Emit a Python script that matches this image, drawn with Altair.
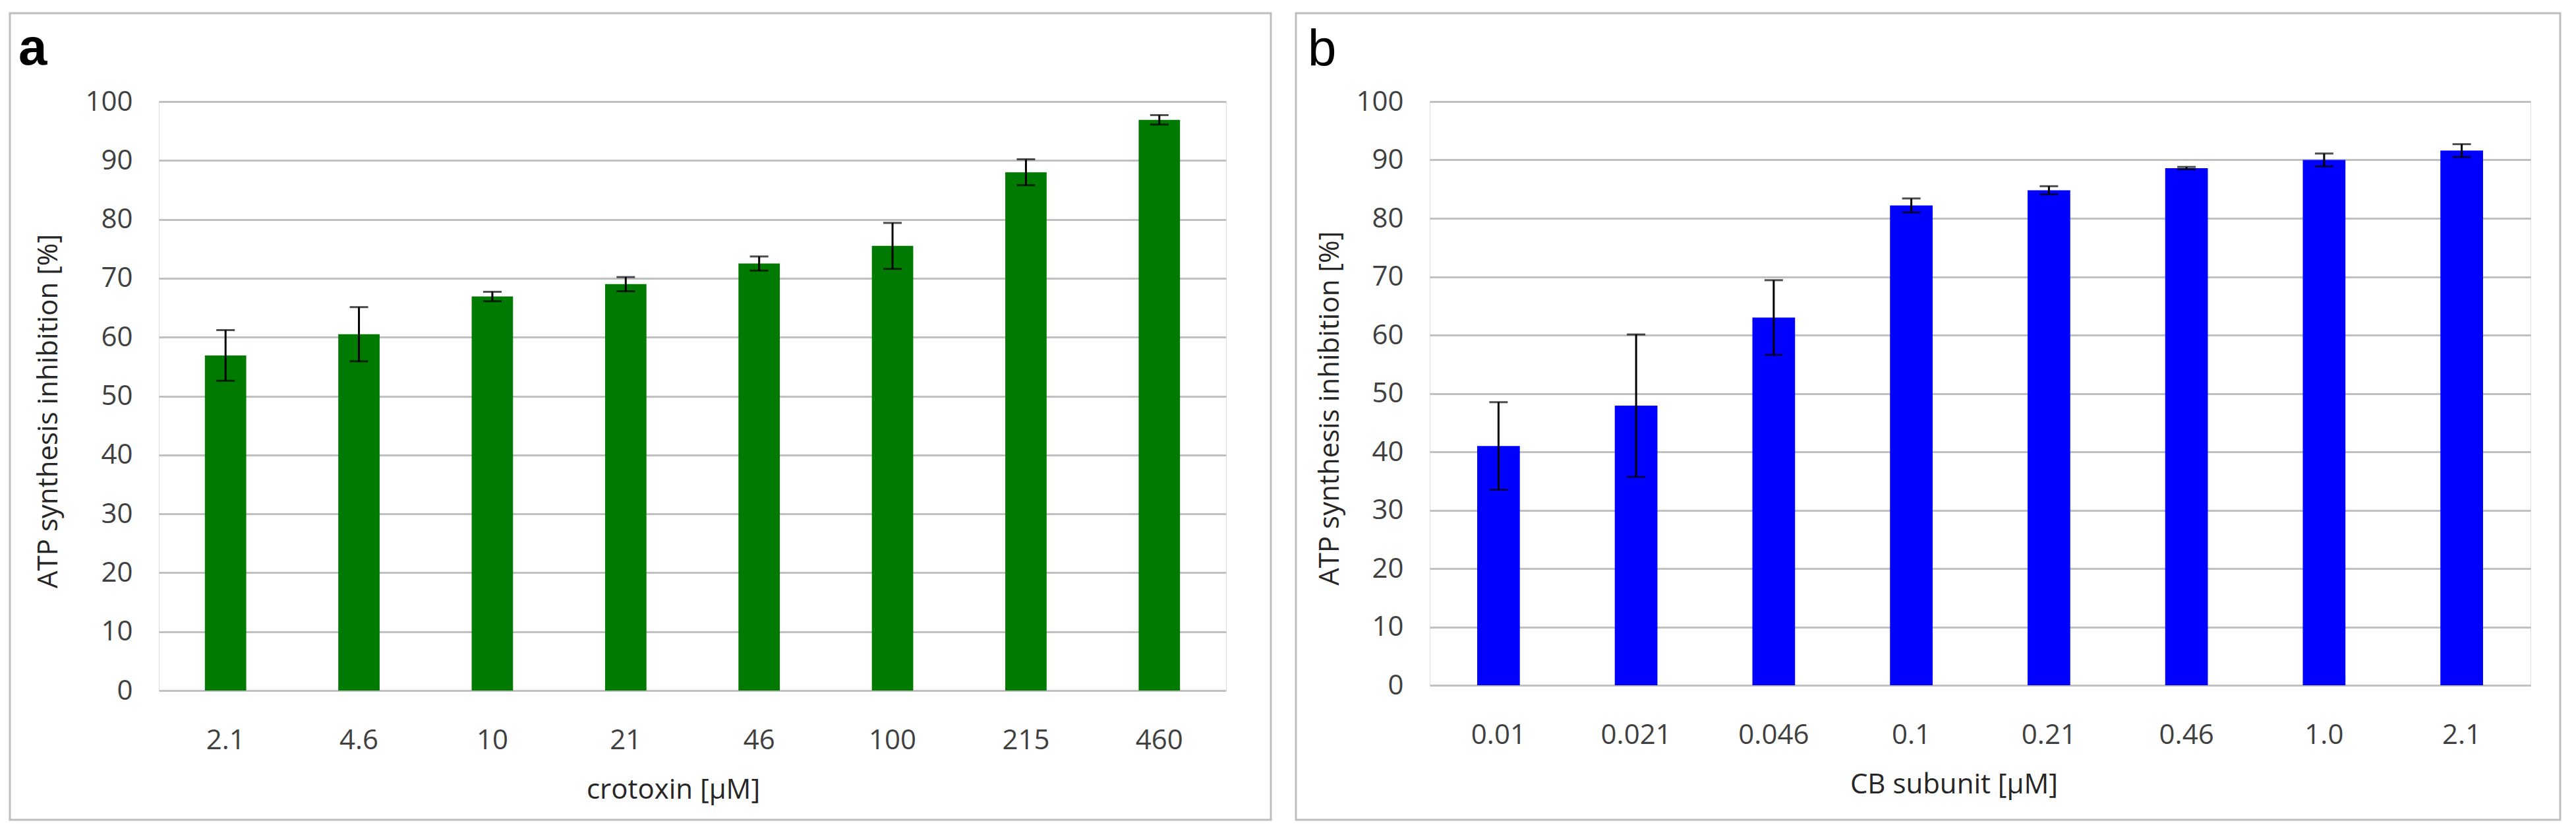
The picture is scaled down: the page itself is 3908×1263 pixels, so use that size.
import altair as alt
import pandas as pd

# ---- data ----
a_labels = ["2.1", "4.6", "10", "21", "46", "100", "215", "460"]
a_values = [56.9, 60.5, 66.9, 69.0, 72.5, 75.5, 88.0, 96.9]
a_errors = [4.3, 4.6, 0.8, 1.2, 1.2, 3.9, 2.2, 0.8]

b_labels = ["0.01", "0.021", "0.046", "0.1", "0.21", "0.46", "1.0", "2.1"]
b_values = [41.0, 47.9, 63.0, 82.2, 84.8, 88.6, 90.0, 91.6]
b_errors = [7.5, 12.2, 6.4, 1.2, 0.7, 0.2, 1.1, 1.1]

y_ticks = [0, 10, 20, 30, 40, 50, 60, 70, 80, 90, 100]

FONT = "Open Sans"
GRID = "#C0C0C0"
LABEL_COLOR = "#404040"
TITLE_COLOR = "#262626"


def panel(labels, values, errors, color, letter, letter_bold, xtitle,
          width, height, border, letter_pos, ytitle_x, xtitle_x):
    df = pd.DataFrame({"cat": labels, "val": values, "err": errors})
    df["lo"] = df["val"] - df["err"]
    df["hi"] = df["val"] + df["err"]

    x = alt.X("cat:N", sort=labels,
              scale=alt.Scale(paddingInner=0.69, paddingOuter=0.345),
              axis=alt.Axis(title=xtitle, labelAngle=0, ticks=False, domain=False,
                            labelPadding=75, labelBaseline="middle",
                            labelFontSize=42, labelFont=FONT, labelColor=LABEL_COLOR,
                            titleFontSize=42, titleFont=FONT, titleColor=TITLE_COLOR,
                            titleFontWeight="normal", titleX=xtitle_x, titleY=150,
                            titleBaseline="middle", titleAlign="center"))
    y_scale = alt.Scale(domain=[0, 100])
    y = alt.Y("val:Q", scale=y_scale,
              axis=alt.Axis(title="ATP synthesis inhibition [%]", values=y_ticks,
                            ticks=False, domain=False, grid=True, gridColor=GRID,
                            gridWidth=3, labelPadding=40, labelFontSize=42,
                            labelFont=FONT, labelColor=LABEL_COLOR,
                            titleFontSize=42, titleFont=FONT, titleColor=TITLE_COLOR,
                            titleFontWeight="normal", titleAngle=270,
                            titleX=ytitle_x, titleY=height * 0.525,
                            titleBaseline="middle", titleAlign="center"))

    base = alt.Chart(df)
    bars = base.mark_bar(color=color).encode(x=x, y=y)
    rules = base.mark_rule(color="black", strokeWidth=3).encode(
        x=alt.X("cat:N", sort=labels), y=alt.Y("lo:Q", scale=y_scale), y2="hi:Q")
    cap_lo = base.mark_tick(color="black", thickness=3, size=28).encode(
        x=alt.X("cat:N", sort=labels), y=alt.Y("lo:Q", scale=y_scale))
    cap_hi = base.mark_tick(color="black", thickness=3, size=28).encode(
        x=alt.X("cat:N", sort=labels), y=alt.Y("hi:Q", scale=y_scale))

    one = pd.DataFrame({"k": [0]})
    frame = alt.Chart(one).mark_rect(fill="white", fillOpacity=0, stroke="#BEBEBE",
                                     strokeWidth=3).encode(
        x=alt.value(border[0]), x2=alt.value(border[1]),
        y=alt.value(border[2]), y2=alt.value(border[3]))
    tag = alt.Chart(one).mark_text(text=letter, fontSize=78, font="Liberation Sans",
                                   fontWeight="bold" if letter_bold else "normal",
                                   color="black", align="left", baseline="alphabetic").encode(
        x=alt.value(letter_pos[0]), y=alt.value(letter_pos[1]))

    return alt.layer(frame, bars, rules, cap_lo, cap_hi, tag).properties(
        width=width, height=height)


pa = panel(a_labels, a_values, a_errors, "#007A00", "a", True, "crotoxin [µM]",
           1619, 893, (-226, 1687, -134, 1089), (-213, -56), -168, 780)
pb = panel(b_labels, b_values, b_errors, "#0000FF", "b", False, "CB subunit [µM]",
           1670, 885, (-203, 1715, -134, 1089), (-185, -54), -152, 795)

chart = alt.hconcat(pa, pb, spacing=34).properties(
    padding={"left": 5, "top": 10, "right": 5, "bottom": 5}
).configure_view(stroke=None).configure(background="white")

chart.save("out.html", embed_options={"renderer": "svg", "actions": False})
